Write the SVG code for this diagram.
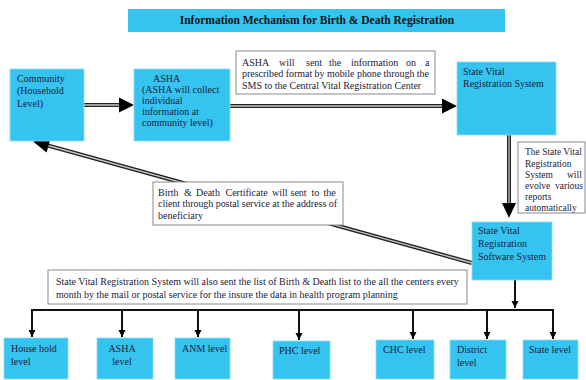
<svg xmlns="http://www.w3.org/2000/svg" width="586" height="380" viewBox="0 0 586 380">
<defs>
<style>
.blue{fill:#35C4F0;stroke:#8fdcf6;stroke-width:0.8}
.note{fill:#fff;stroke:#8a8a8a;stroke-width:1}
text{font-family:"Liberation Serif","Times New Roman",serif;font-size:10px;fill:#1c1c3a}
.sm{font-size:9.5px}
.title{font-size:11.5px;font-weight:bold;fill:#111}
.dbl-o{fill:none;stroke:#222;stroke-width:4}
.dbl-i{fill:none;stroke:#c8c8c8;stroke-width:1.3}
.thin{fill:none;stroke:#111;stroke-width:2}
</style>
<marker id="small" markerUnits="userSpaceOnUse" markerWidth="8" markerHeight="8" viewBox="0 0 8 8" refX="7" refY="4" orient="auto">
<path d="M0,0.5 L7,4 L0,7.5 Z" fill="#000"/>
</marker>
</defs>

<g id="title">
<rect x="128" y="9" width="377" height="23" fill="#35C4F0"/>
<text class="title" x="317" y="24" text-anchor="middle">Information Mechanism for Birth &amp; Death Registration</text>
</g>

<g id="connectors">
<path class="dbl-o" d="M84,105 L121,105"/>
<path class="dbl-i" d="M84,105 L121,105"/>
<path d="M134,105 L119,97.5 L119,112.5 Z" fill="#000"/>

<path class="dbl-o" d="M230,106 L444,106"/>
<path class="dbl-i" d="M230,106 L444,106"/>
<path d="M457,106 L442,98.5 L442,113.5 Z" fill="#000"/>

<path class="dbl-o" d="M509,135 L509,204"/>
<path class="dbl-i" d="M509,135 L509,204"/>
<path d="M509,218 L502,203 L516,203 Z" fill="#000"/>

<path class="dbl-o" d="M472,263 L46,145"/>
<path class="dbl-i" d="M472,263 L46,145"/>
<path d="M33,141.5 L50.5,138.3 L46.6,152.4 Z" fill="#000"/>

<path class="thin" d="M515,280 L515,308" marker-end="url(#small)"/>
<path class="thin" d="M32,336 L32,310 L553,310 L553,338"/>
<path class="thin" d="M32,310 L32,337" marker-end="url(#small)"/>
<path class="thin" d="M122,310 L122,337" marker-end="url(#small)"/>
<path class="thin" d="M198,310 L198,337" marker-end="url(#small)"/>
<path class="thin" d="M299,310 L299,340" marker-end="url(#small)"/>
<path class="thin" d="M413,310 L413,339" marker-end="url(#small)"/>
<path class="thin" d="M487,310 L487,339" marker-end="url(#small)"/>
<path class="thin" d="M553,310 L553,339" marker-end="url(#small)"/>
</g>

<g id="community">
<rect class="blue" x="10" y="69" width="74" height="72"/>
<text x="17" y="82">Community</text>
<text x="17" y="94">(Household</text>
<text x="17" y="107">Level)</text>
</g>

<g id="asha">
<rect class="blue" x="134" y="69" width="96" height="72"/>
<text x="153" y="81.5">ASHA</text>
<text x="142" y="92.5">(ASHA will collect</text>
<text x="142" y="103.5">individual</text>
<text x="142" y="115">information at</text>
<text x="142" y="126">community level)</text>
</g>

<g id="note-sms">
<rect class="note" x="236" y="51" width="199" height="43"/>
<text y="65.5"><tspan x="242">ASHA</tspan> <tspan x="279">will</tspan> <tspan x="306">sent</tspan> <tspan x="329">the</tspan> <tspan x="351">information</tspan> <tspan x="406">on</tspan> <tspan x="425">a</tspan></text>
<text x="242" y="77" textLength="187" lengthAdjust="spacing">prescribed format by mobile phone through the</text>
<text x="242" y="88.5">SMS to the Central Vital Registration Center</text>
</g>

<g id="svrs">
<rect class="blue" x="457" y="62" width="99" height="73"/>
<text x="463" y="74.5">State Vital</text>
<text x="463" y="86.5">Registration System</text>
</g>

<g id="note-reports">
<rect class="note" x="518" y="142" width="67" height="71"/>
<text class="sm" x="525" y="154.5">The State Vital</text>
<text class="sm" x="525" y="166.5">Registration</text>
<text class="sm" y="177.5"><tspan x="525">System</tspan> <tspan x="567">will</tspan></text>
<text class="sm" y="188.5"><tspan x="525">evolve</tspan> <tspan x="555">various</tspan></text>
<text class="sm" x="525" y="199.5">reports</text>
<text class="sm" x="525" y="211">automatically</text>
</g>

<g id="svrss">
<rect class="blue" x="472" y="222" width="80" height="58"/>
<text x="478" y="233.5">State Vital</text>
<text x="478" y="246.5">Registration</text>
<text x="478" y="260">Software System</text>
</g>

<g id="note-certificate">
<rect class="note" x="153" y="182" width="190" height="43"/>
<text y="195.5"><tspan x="158">Birth</tspan> <tspan x="184">&amp;</tspan> <tspan x="196">Death</tspan> <tspan x="225.5">Certificate</tspan> <tspan x="272">will</tspan> <tspan x="290.5">sent</tspan> <tspan x="311.5">to</tspan> <tspan x="323.5">the</tspan></text>
<text x="158" y="207" textLength="179" lengthAdjust="spacing">client through postal service at the address of</text>
<text x="158" y="218.5">beneficiary</text>
</g>

<g id="note-list">
<rect class="note" x="48" y="270" width="419" height="34"/>
<text x="56" y="284.5">State Vital Registration System will also sent the list of Birth &amp; Death list to the all the centers every</text>
<text x="56" y="297.5">month by the mail or postal service for the insure the data in health program planning</text>
</g>

<g id="household">
<rect class="blue" x="4" y="338" width="64" height="41"/>
<text x="11" y="351.5">House hold</text>
<text x="11" y="364.5">level</text>
</g>

<g id="asha-level">
<rect class="blue" x="97" y="338" width="56" height="41"/>
<text x="122" y="351.5" text-anchor="middle">ASHA</text>
<text x="122" y="364.5" text-anchor="middle">level</text>
</g>

<g id="anm-level">
<rect class="blue" x="175" y="338" width="55" height="41"/>
<text x="182" y="351.5">ANM level</text>
</g>

<g id="phc-level">
<rect class="blue" x="273" y="341" width="57" height="38"/>
<text x="279" y="353.5">PHC level</text>
</g>

<g id="chc-level">
<rect class="blue" x="376" y="340" width="58" height="39"/>
<text x="383" y="352.5">CHC level</text>
</g>

<g id="district-level">
<rect class="blue" x="450" y="340" width="56" height="39"/>
<text x="457" y="352.5">District</text>
<text x="457" y="365.5">level</text>
</g>

<g id="state-level">
<rect class="blue" x="523" y="340" width="55" height="39"/>
<text x="529" y="352.5">State level</text>
</g>
</svg>
